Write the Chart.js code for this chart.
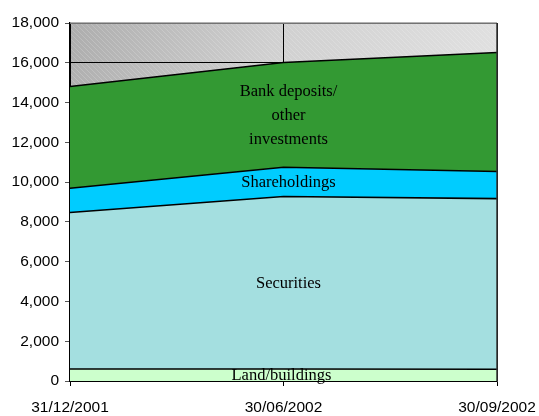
<!DOCTYPE html>
<html>
<head>
<meta charset="utf-8">
<script src="https://cdn.jsdelivr.net/npm/chart.js@4.4.1/dist/chart.umd.min.js"></script>
<style>
  html, body { margin: 0; padding: 0; background: #fff; }
  #wrap { width: 539px; height: 416px; }
</style>
</head>
<body>
<div id="wrap"><canvas id="areaChart" width="539" height="416"></canvas></div>
<script>
// data (stacked values)
var dates = ['31/12/2001', '30/06/2002', '30/09/2002'];
var landBuildings = [600, 600, 590];
var securities = [7870, 8680, 8580];
var shareholdings = [1225, 1470, 1360];
var bankDeposits = [5110, 5265, 5990];
var yTicks = [0, 2000, 4000, 6000, 8000, 10000, 12000, 14000, 16000, 18000];

var seriesNames = ['Land/buildings', 'Securities', 'Shareholdings', 'Bank deposits/\nother\ninvestments'];

// gray hatched background of the plot area
const plotBackground = {
  id: 'plotBackground',
  beforeDraw(chart) {
    const ctx = chart.ctx;
    const a = chart.chartArea;
    ctx.save();
    const grad = ctx.createLinearGradient(a.left, a.top, a.right, a.top + 120);
    grad.addColorStop(0, '#adadad');
    grad.addColorStop(0.45, '#d0d0d0');
    grad.addColorStop(1, '#e2e2e2');
    ctx.fillStyle = grad;
    ctx.fillRect(a.left, a.top, a.right - a.left, a.bottom - a.top);
    ctx.beginPath();
    ctx.rect(a.left, a.top, a.right - a.left, a.bottom - a.top);
    ctx.clip();
    ctx.strokeStyle = 'rgba(255,255,255,0.18)';
    ctx.lineWidth = 1;
    for (let x = a.left - 400; x < a.right; x += 5) {
      ctx.beginPath();
      ctx.moveTo(x, a.top);
      ctx.lineTo(x + 400, a.top + 400);
      ctx.stroke();
    }
    ctx.restore();
  },
  afterDraw(chart) {
    const ctx = chart.ctx;
    const a = chart.chartArea;
    ctx.save();
    ctx.strokeStyle = '#999999';
    ctx.lineWidth = 1.5;
    ctx.beginPath();
    ctx.moveTo(a.left, a.top);
    ctx.lineTo(a.right, a.top);
    ctx.stroke();
    ctx.strokeStyle = '#333333';
    ctx.beginPath();
    ctx.moveTo(a.right, a.top);
    ctx.lineTo(a.right, a.bottom);
    ctx.stroke();
    ctx.restore();
  }
};

// series names written inside their bands, at the middle date
const bandLabels = {
  id: 'bandLabels',
  afterDatasetsDraw(chart) {
    const ctx = chart.ctx;
    const xs = chart.scales.x;
    const ys = chart.scales.y;
    const mid = 1;
    ctx.save();
    ctx.fillStyle = '#000';
    ctx.font = '16.5px "Liberation Serif", "Times New Roman", serif';
    ctx.textAlign = 'center';
    ctx.textBaseline = 'middle';
    let base = 0;
    chart.data.datasets.forEach((ds, i) => {
      const v = ds.data[mid];
      const yMid = ys.getPixelForValue(base + v / 2);
      base += v;
      const lines = seriesNames[i].split('\n');
      const x = xs.getPixelForValue(mid) + (i === 0 ? -2 : 5);
      lines.forEach((ln, k) => {
        ctx.fillText(ln, x, yMid + 1 + (k - (lines.length - 1) / 2) * 24);
      });
    });
    ctx.restore();
  }
};

function makeDataset(label, values, color, fill) {
  return {
    label: label,
    data: values,
    backgroundColor: color,
    borderColor: '#000000',
    borderWidth: 1.6,
    fill: fill,
    tension: 0,
    pointRadius: 0
  };
}

const ctx = document.getElementById('areaChart').getContext('2d');
const chartArea = new Chart(ctx, {
  type: 'line',
  data: {
    labels: dates,
    datasets: [
      makeDataset('Land/buildings', landBuildings, '#ccffcc', 'origin'),
      makeDataset('Securities', securities, '#a4dfe0', '-1'),
      makeDataset('Shareholdings', shareholdings, '#00ccff', '-1'),
      makeDataset('Bank deposits/other investments', bankDeposits, '#339933', '-1')
    ]
  },
  options: {
    responsive: false,
    animation: false,
    layout: { padding: { left: 0, right: 42, top: 23, bottom: 0 } },
    plugins: {
      legend: { display: false },
      tooltip: { enabled: false }
    },
    scales: {
      x: {
        offset: false,
        grid: { color: '#000000', lineWidth: 1, tickLength: 5, tickColor: '#000000' },
        border: { color: '#000000', width: 1.5 },
        ticks: {
          color: '#000',
          font: { family: '"Liberation Sans", Arial, sans-serif', size: 15.5 },
          padding: 12,
          maxRotation: 0,
          autoSkip: false
        },
        afterFit(scale) {
          scale.height = 35;
          scale.paddingLeft = 0;
          scale.paddingRight = 0;
        }
      },
      y: {
        stacked: true,
        min: 0,
        max: 18000,
        afterBuildTicks(scale) { scale.ticks = yTicks.map(v => ({ value: v })); },
        grid: { color: '#000000', lineWidth: 1, tickLength: 5, tickColor: '#555555' },
        border: { color: '#000000', width: 1.5 },
        ticks: {
          color: '#000',
          font: { family: '"Liberation Sans", Arial, sans-serif', size: 15.5 },
          padding: 6,
          callback: v => v.toLocaleString('en-US')
        },
        afterFit(scale) { scale.width = 70; }
      }
    }
  },
  plugins: [plotBackground, bandLabels]
});
</script>
</body>
</html>
